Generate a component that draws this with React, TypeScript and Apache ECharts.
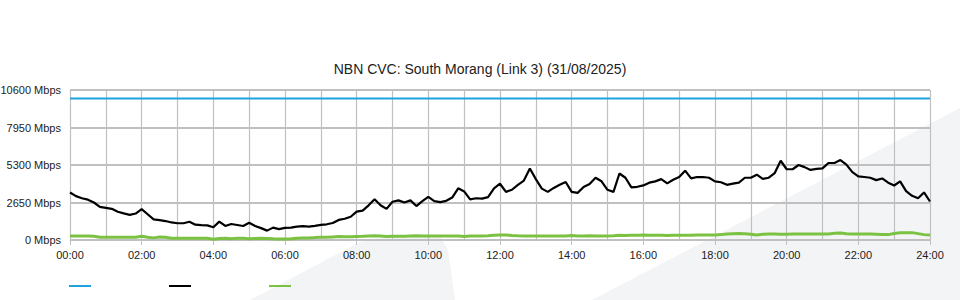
import React, { useEffect, useRef } from "react";
import * as echarts from "echarts";

const TITLE = "NBN CVC: South Morang (Link 3) (31/08/2025)";
const STEP_MIN = 10; // one sample every 10 minutes
const Y_MAX = 10600;
const Y_INTERVAL = 2650;
const CAPACITY = 10000;

// black series, Mbps, one row per hour (6 samples of 10 min), last value = 24:00
const traffic: number[] = [
  3360, 3100, 2950, 2850, 2650, 2340,
  2270, 2200, 2000, 1880, 1780, 1870,
  2180, 1820, 1460, 1400, 1340, 1240,
  1185, 1185, 1290, 1080, 1050, 1030,
  900, 1300, 994, 1130, 1060, 990,
  1220, 994, 840, 662, 875, 770,
  860, 880, 950, 980, 950, 1000,
  1070, 1110, 1200, 1420, 1500, 1640,
  2010, 2080, 2450, 2880, 2460, 2200,
  2700, 2800, 2650, 2800, 2400, 2750,
  3050, 2750, 2680, 2770, 3000, 3650,
  3430, 2870, 2950, 2920, 3030, 3650,
  3976, 3400, 3550, 3900, 4200, 5050,
  4300, 3630, 3400, 3680, 3905, 4100,
  3400, 3330, 3750, 3960, 4400, 4150,
  3550, 3400, 4700, 4400, 3715, 3760,
  3858, 4050, 4142, 4300, 4000, 4260,
  4450, 4900, 4350, 4450, 4450, 4400,
  4142, 4080, 3900, 3980, 4050, 4400,
  4400, 4615, 4320, 4400, 4733, 5600,
  5000, 5000, 5300, 5150, 4950, 5030,
  5060, 5443, 5443, 5650, 5325, 4800,
  4500, 4450, 4400, 4230, 4350, 4050,
  3850, 4142, 3450, 3120, 2950, 3360,
  2720,
];

// green series, Mbps
const upload: number[] = [
  280, 280, 280, 280, 260, 200,
  190, 190, 190, 190, 190, 190,
  270, 200, 150, 210, 200, 130,
  120, 120, 120, 120, 120, 120,
  60, 110, 120, 80, 120, 120,
  90, 110, 120, 110, 80, 70,
  70, 90, 120, 150, 150, 170,
  200, 200, 220, 240, 230, 230,
  250, 260, 280, 300, 280, 250,
  270, 270, 260, 280, 300, 290,
  290, 290, 290, 290, 290, 290,
  250, 280, 290, 290, 300, 330,
  360, 350, 320, 300, 290, 290,
  290, 290, 290, 290, 290, 290,
  310, 290, 280, 300, 290, 290,
  290, 300, 330, 310, 340, 340,
  350, 330, 330, 340, 320, 330,
  330, 340, 340, 350, 350, 350,
  360, 380, 420, 450, 460, 440,
  400, 360, 400, 420, 420, 410,
  410, 420, 420, 420, 420, 420,
  420, 430, 470, 500, 440, 420,
  420, 420, 420, 400, 380, 380,
  460, 510, 520, 520, 450, 380,
  350,
];

const capacityLine: number[] = [CAPACITY, CAPACITY];
const seriesNames = ["Capacity", "Traffic", "Upload"];

const FONT = "'Liberation Sans', Arial, sans-serif";

function toPairs(values: number[]): [number, number][] {
  return values.map((v, i) => [i * STEP_MIN, v]);
}

export default function App() {
  const ref = useRef<HTMLDivElement>(null);

  useEffect(() => {
    if (!ref.current) return;
    const chart = echarts.init(ref.current, undefined, { renderer: "svg" });
    chart.setOption({
      animation: false,
      backgroundColor: "#ffffff",
      title: {
        text: TITLE,
        left: "center",
        top: 57,
        textStyle: { fontSize: 14, fontWeight: "normal", color: "#222", fontFamily: FONT },
      },
      graphic: [
        {
          type: "polygon",
          z: -10,
          silent: true,
          shape: { points: [[250, 300], [360, 242], [385, 237], [440, 236], [448, 250], [455, 300]] },
          style: { fill: "#f3f4f6" },
        },
        {
          type: "polygon",
          z: -10,
          silent: true,
          shape: { points: [[592, 300], [960, 108], [960, 300]] },
          style: { fill: "#f3f4f6" },
        },
      ],
      legend: {
        data: seriesNames,
        left: 64,
        top: 280,
        icon: "rect",
        itemWidth: 22,
        itemHeight: 2,
        itemGap: 78,
        formatter: () => "",
        textStyle: { fontSize: 1 },
        selectedMode: false,
      },
      grid: { left: 70, right: 30, top: 90, bottom: 60, outerBoundsMode: "none", containLabel: false },
      xAxis: {
        type: "value",
        min: 0,
        max: 1440,
        interval: 120,
        axisLine: { show: true, lineStyle: { color: "#c0c0c0", width: 1 } },
        axisTick: { show: true, length: 5, lineStyle: { color: "#c0c0c0" } },
        axisLabel: {
          color: "#222",
          fontSize: 11,
          fontFamily: FONT,
          margin: 9,
          formatter: (v: number) => String(Math.floor(v / 60)).padStart(2, "0") + ":00",
        },
        splitLine: { show: true, lineStyle: { color: "#c0c0c0", width: 1.2 } },
        minorTick: { show: false, splitNumber: 2 },
        minorSplitLine: { show: true, lineStyle: { color: "#c0c0c0", width: 1.2 } },
      },
      yAxis: {
        type: "value",
        min: 0,
        max: Y_MAX,
        interval: Y_INTERVAL,
        axisLine: { show: false },
        axisTick: { show: false },
        axisLabel: {
          color: "#222",
          fontSize: 11,
          fontFamily: FONT,
          margin: 9,
          padding: [0, 0, 4, 0],
          formatter: (v: number) => `${v} Mbps`,
        },
        splitLine: { show: true, lineStyle: { color: "#c0c0c0", width: 2 } },
      },
      series: [
        {
          name: seriesNames[0],
          type: "line",
          data: [[0, capacityLine[0]], [1440, capacityLine[1]]],
          showSymbol: false,
          lineStyle: { color: "#1fa3df", width: 2 },
          itemStyle: { color: "#1fa3df" },
          z: 3,
        },
        {
          name: seriesNames[1],
          type: "line",
          data: toPairs(traffic),
          showSymbol: false,
          lineStyle: { color: "#000000", width: 2.2 },
          itemStyle: { color: "#000000" },
          z: 4,
        },
        {
          name: seriesNames[2],
          type: "line",
          data: toPairs(upload),
          showSymbol: false,
          lineStyle: { color: "#7cc242", width: 3 },
          itemStyle: { color: "#7cc242" },
          z: 5,
        },
      ],
    });
    return () => chart.dispose();
  }, []);

  return (
    <div
      ref={ref}
      style={{ position: "absolute", left: 0, top: 0, width: 960, height: 300 }}
    />
  );
}
